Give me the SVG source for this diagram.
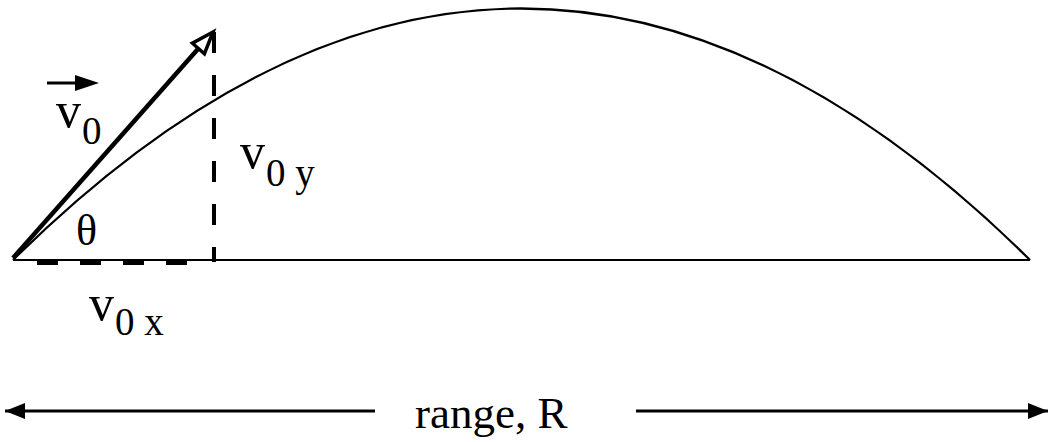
<svg xmlns="http://www.w3.org/2000/svg" width="1051" height="442" viewBox="0 0 1051 442">
<defs>
<style>
.ln{stroke:#000;fill:none;stroke-width:2.2}
.dash{stroke:#000;fill:none;stroke-width:4;stroke-dasharray:21 22}
.t{font-family:"Liberation Serif","Times New Roman","DejaVu Serif",serif;fill:#000}
.big{font-size:50px}
.sub{font-size:39px}
</style>
<marker id="ah" viewBox="0 0 20 16" refX="20" refY="8" markerWidth="20" markerHeight="16" markerUnits="userSpaceOnUse" orient="auto">
<path d="M0,0 L20,8 L0,16 Z" fill="#000"/>
</marker>
</defs>
<g id="trajectory">
<path class="ln" d="M13,260 Q521,-243 1030,260"/>
<line class="ln" x1="13" y1="260" x2="1030" y2="260"/>
</g>
<g id="components">
<line class="dash" x1="214" y1="32" x2="214" y2="262"/>
<line class="dash" x1="37" y1="262.5" x2="200" y2="262.5" style="stroke-width:5"/>
</g>
<g id="velocity">
<line x1="13" y1="258" x2="198.4" y2="48.5" stroke="#000" stroke-width="4.5"/>
<polygon points="213,32 204.4,53.8 192.4,43.2" fill="#fff" stroke="#000" stroke-width="3.5" stroke-linejoin="miter"/>
</g>
<g id="label-v0">
<line x1="47" y1="83" x2="80" y2="83" stroke="#000" stroke-width="3"/>
<polygon points="75,75 99,83 75,91" fill="#000"/>
<text class="t big" x="56" y="127">v</text>
<text class="t sub" x="82" y="144">0</text>
</g>
<g id="label-v0y">
<text class="t big" x="240" y="168">v</text>
<text class="t sub" x="266" y="186">0 y</text>
</g>
<g id="label-v0x">
<text class="t big" x="89" y="320">v</text>
<text class="t sub" x="115" y="335">0 x</text>
</g>
<g id="label-theta">
<text class="t" style="font-size:44px" x="76" y="245">θ</text>
</g>
<g id="range">
<line x1="375" y1="411" x2="5" y2="411" stroke="#000" stroke-width="3" marker-end="url(#ah)"/>
<line x1="636" y1="411" x2="1048" y2="411" stroke="#000" stroke-width="3" marker-end="url(#ah)"/>
<text class="t" style="font-size:45px" x="415" y="428">range, R</text>
</g>
</svg>
